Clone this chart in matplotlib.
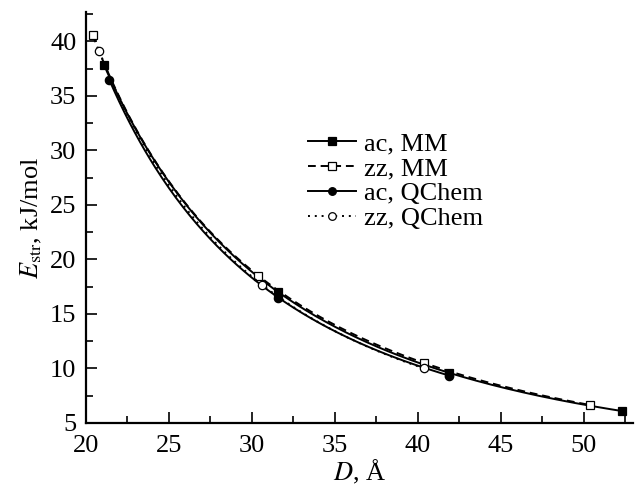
import numpy as np
import matplotlib
matplotlib.use("Agg")
import matplotlib.pyplot as plt
from matplotlib.ticker import MultipleLocator

plt.rcParams['font.family'] = ['Liberation Serif', 'DejaVu Serif']
plt.rcParams['mathtext.fontset'] = 'stix'

# data
d_ac_mm = [21.1, 31.6, 41.9, 52.3]
e_ac_mm = [37.8, 17.0, 9.6, 6.1]
d_zz_mm = [20.4, 30.4, 40.4, 50.4]
e_zz_mm = [40.6, 18.5, 10.5, 6.65]
d_ac_qc = [21.4, 31.6, 41.9]
e_ac_qc = [36.5, 16.5, 9.35]
d_zz_qc = [20.8, 30.6, 40.4]
e_zz_qc = [39.1, 17.7, 10.0]

labels = ['ac, MM', 'zz, MM', 'ac, QChem', 'zz, QChem']

FS = 19


def smooth(d, e, n=200):
    """ Smooth curve through the points, polynomial in log-log space. """
    ld, le = np.log(d), np.log(e)
    coef = np.polyfit(ld, le, len(d) - 1)
    xs = np.linspace(min(d), max(d), n)
    return xs, np.exp(np.polyval(coef, np.log(xs)))


fig = plt.figure(figsize=(6.35, 4.91), dpi=100)
ax = fig.add_axes([0.1354, 0.1385, 0.862, 0.837])

series = [
    (d_ac_mm, e_ac_mm, '-', 's', 'black'),
    (d_zz_mm, e_zz_mm, (0, (4, 2.5)), 's', 'white'),
    (d_ac_qc, e_ac_qc, '-', 'o', 'black'),
    (d_zz_qc, e_zz_qc, (0, (1, 2.5)), 'o', 'white'),
]

handles = []
for (d, e, ls, mk, fc), lab in zip(series, labels):
    xs, ys = smooth(d, e)
    ax.plot(xs, ys, color='black', linestyle=ls, linewidth=1.4)
    ax.plot(d, e, linestyle='none', marker=mk, markersize=6,
            markerfacecolor=fc, markeredgecolor='black', markeredgewidth=0.9)
    # proxy for legend
    h, = ax.plot([], [], color='black', linestyle=ls, linewidth=1.4, marker=mk,
                 markersize=5.5, markerfacecolor=fc, markeredgecolor='black',
                 markeredgewidth=0.9, label=lab)
    handles.append(h)

ax.set_xlim(20, 53)
ax.set_ylim(5, 42.7)
ax.xaxis.set_major_locator(MultipleLocator(5))
ax.xaxis.set_minor_locator(MultipleLocator(2.5))
ax.yaxis.set_major_locator(MultipleLocator(5))
ax.yaxis.set_minor_locator(MultipleLocator(2.5))

ax.spines['top'].set_visible(False)
ax.spines['right'].set_visible(False)
ax.spines['left'].set_linewidth(1.6)
ax.spines['bottom'].set_linewidth(1.6)
ax.tick_params(which='both', direction='in', width=1.2, labelsize=FS)
ax.tick_params(axis='x', pad=9)
ax.tick_params(axis='y', pad=7)
ax.tick_params(which='major', length=8)
ax.tick_params(which='minor', length=5)

ax.set_xlabel(r'$D$, Å', fontsize=FS, labelpad=0)
ax.set_ylabel(r'$E_{\mathrm{str}}$, kJ/mol', fontsize=FS, labelpad=4)

ax.legend(handles, labels, loc='upper left', bbox_to_anchor=(0.405, 0.708),
          frameon=False, fontsize=FS, handlelength=1.85, handletextpad=0.3,
          labelspacing=0.05, borderaxespad=0, borderpad=0)

fig.savefig('out.png', dpi=100)
plt.close(fig)
